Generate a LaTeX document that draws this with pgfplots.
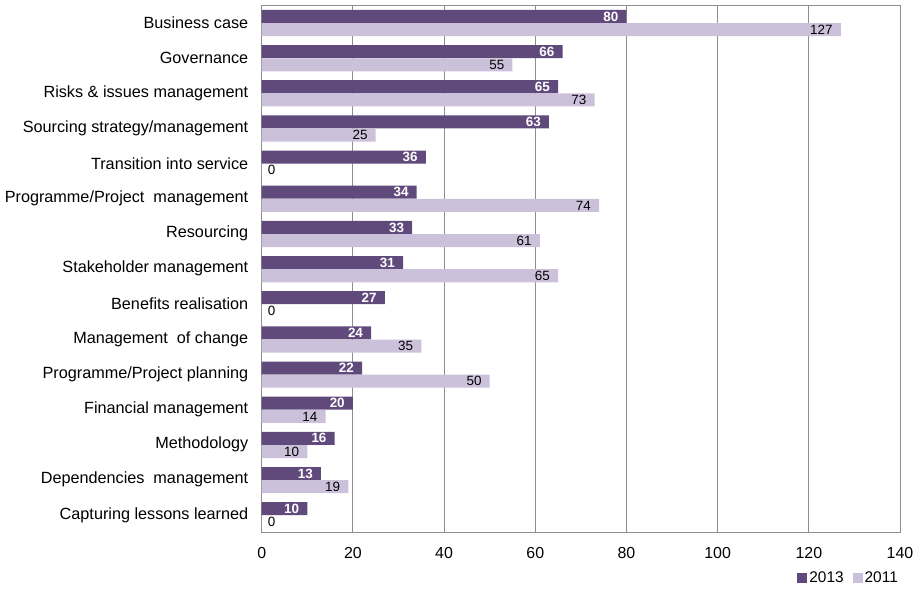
\documentclass[border=0pt]{standalone}
\usepackage{pgfplots}
\pgfplotsset{compat=1.18}
\usepackage{fontspec}
\setmainfont{Liberation Sans}
\definecolor{dark}{HTML}{604A7B}
\definecolor{light}{HTML}{CCC1DA}
\definecolor{gridgray}{HTML}{8E8E8E}

\pgfplotstableread{
y  v2013 v2011
0  80 127
1  66 55
2  65 73
3  63 25
4  36 0
5  34 74
6  33 61
7  31 65
8  27 0
9  24 35
10 22 50
11 20 14
12 16 10
13 13 19
14 10 0
}\data

\begin{document}
\begin{tikzpicture}
\begin{axis}[
  scale only axis,
  width=639bp, height=528bp,
  xbar,
  bar width=0.37,
  y dir=reverse,
  xmin=0, xmax=140,
  ymin=-0.5, ymax=14.5,
  xtick={0,20,...,140},
  ytick={0,...,14},
  yticklabels={Business case, Governance, Risks \& issues management,
    Sourcing strategy/management, Transition into service,
    Programme/Project\ \ management, Resourcing, Stakeholder management,
    Benefits realisation, Management\ \ of change, Programme/Project planning,
    Financial management, Methodology, Dependencies\ \ management,
    Capturing lessons learned},
  major tick length=0pt,
  xmajorgrids,
  grid style={gridgray, line width=0.9bp},
  axis line style={gridgray, line width=0.9bp},
  tick label style={font=\fontsize{16}{19}\selectfont},
  /pgf/number format/assume math mode=true,
  yticklabel style={xshift=-10bp, font=\fontsize{16.3}{19}\selectfont},
  xticklabel style={yshift=-11bp},
  legend style={at={(1,0)}, anchor=north east, yshift=-37bp, draw=none,
    inner sep=0pt, font=\fontsize{15.5}{18}\selectfont,
    /tikz/every even column/.style={column sep=7bp}},
  legend columns=2,
  legend image code/.code={\fill[#1,draw=none] (0bp,-5bp) rectangle (10bp,5bp);},
]
\addplot[fill=dark, draw=none, bar shift=-0.175,
  nodes near coords,
  nodes near coords style={anchor=east, inner sep=0pt, xshift=-8bp,
    text=white, font=\bfseries\fontsize{13.5}{16}\selectfont}]
  table[x=v2013, y=y] {\data};
\addlegendentry{2013}
\addplot[fill=light, draw=none, bar shift=0.2,
  nodes near coords={\pgfmathfloatifflags{\pgfplotspointmeta}{0}{}{\pgfmathprintnumber{\pgfplotspointmeta}}},
  nodes near coords style={anchor=east, inner sep=0pt, xshift=-8bp,
    text=black, font=\fontsize{13.5}{16}\selectfont}]
  table[x=v2011, y=y] {\data};
\addlegendentry{2011}
\addplot[forget plot, fill=none, draw=none, bar shift=0.2,
  nodes near coords,
  nodes near coords style={anchor=west, inner sep=0pt, xshift=6bp,
    text=black, font=\fontsize{13.5}{16}\selectfont}]
  coordinates {(0,4) (0,8) (0,14)};
\end{axis}
\path ([shift={(-262bp,-57bp)}]current axis.south west) rectangle ([shift={(24bp,5bp)}]current axis.north east);
\end{tikzpicture}
\end{document}
